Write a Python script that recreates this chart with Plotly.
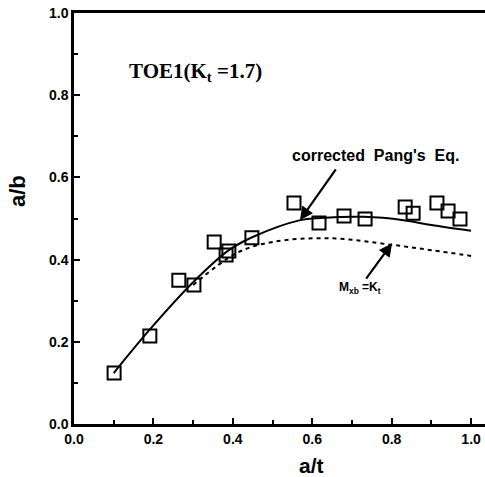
import plotly.graph_objects as go

# measured data points (a/t, a/b)
pts_x = [0.101, 0.191, 0.264, 0.302, 0.353, 0.390, 0.383, 0.448, 0.554, 0.617,
         0.680, 0.733, 0.834, 0.854, 0.914, 0.942, 0.972]
pts_y = [0.124, 0.214, 0.350, 0.338, 0.443, 0.421, 0.411, 0.453, 0.538, 0.489,
         0.506, 0.499, 0.528, 0.513, 0.538, 0.518, 0.499]

# corrected Pang's equation (solid)
pang_x = [0.10, 0.19, 0.30, 0.39, 0.45, 0.57, 0.62, 0.73, 0.83, 0.90, 1.00]
pang_y = [0.124, 0.229, 0.345, 0.423, 0.455, 0.496, 0.501, 0.504, 0.496, 0.484, 0.470]

# Mxb = Kt (dashed)
mxb_x = [0.30, 0.41, 0.50, 0.645, 0.80, 0.90, 1.00]
mxb_y = [0.338, 0.416, 0.443, 0.452, 0.436, 0.423, 0.409]

tick_vals = [0.0, 0.2, 0.4, 0.6, 0.8, 1.0]
tick_text = ["0.0", "0.2", "0.4", "0.6", "0.8", "1.0"]

fig = go.Figure()
fig.add_trace(go.Scatter(x=pang_x, y=pang_y, mode="lines",
                         line=dict(color="black", width=2, shape="spline"),
                         showlegend=False))
fig.add_trace(go.Scatter(x=mxb_x, y=mxb_y, mode="lines",
                         line=dict(color="black", width=2, dash="4px,4px", shape="spline"),
                         showlegend=False))
fig.add_trace(go.Scatter(x=pts_x, y=pts_y, mode="markers",
                         marker=dict(symbol="square-open", size=13,
                                     color="black", line=dict(width=2, color="black")),
                         showlegend=False))

tickfont = dict(family="Liberation Sans", size=14, color="black")
bold_ticks = ["<b>%s</b>" % t for t in tick_text]
minor_vals = [0.1, 0.3, 0.5, 0.7, 0.9]
fig.update_xaxes(range=[0, 1.035], tickvals=tick_vals, ticktext=bold_ticks,
                 showline=True, linecolor="black", linewidth=2.5, mirror=True,
                 ticks="inside", ticklen=6, tickwidth=1.5, tickcolor="black",
                 minor=dict(tickvals=minor_vals, ticks="inside",
                            ticklen=4, tickcolor="black"),
                 showgrid=False, zeroline=False, tickfont=tickfont)
fig.update_yaxes(range=[0, 1.0], tickvals=tick_vals, ticktext=bold_ticks,
                 showline=True, linecolor="black", linewidth=2.5,
                 ticks="inside", ticklen=6, tickwidth=1.5, tickcolor="black",
                 minor=dict(tickvals=minor_vals, ticks="inside",
                            ticklen=4, tickcolor="black"),
                 showgrid=False, zeroline=False, tickfont=tickfont)

fig.add_annotation(text="<b>TOE1(K<sub>t</sub> =1.7)</b>", x=0.134, y=0.857,
                   xanchor="left", yanchor="middle", showarrow=False,
                   font=dict(family="Liberation Serif", size=21, color="black"))
fig.add_annotation(text="<b>corrected  Pang's  Eq.</b>", x=0.758, y=0.654,
                   xanchor="center", yanchor="middle", showarrow=False,
                   font=dict(family="Liberation Sans", size=16, color="black"))
fig.add_annotation(x=0.569, y=0.496, ax=0.662, ay=0.623, axref="x", ayref="y",
                   text="", showarrow=True, arrowhead=2, arrowsize=1.2,
                   arrowwidth=2.2, arrowcolor="black")
fig.add_annotation(text="<b>M<sub>xb</sub> =K<sub>t</sub></b>", x=0.72, y=0.33,
                   xanchor="center", yanchor="middle", showarrow=False,
                   font=dict(family="Liberation Sans", size=12, color="black"))
fig.add_annotation(x=0.801, y=0.440, ax=0.733, ay=0.350, axref="x", ayref="y",
                   text="", showarrow=True, arrowhead=2, arrowsize=1.2,
                   arrowwidth=2.2, arrowcolor="black")
fig.add_annotation(text="<b>a/b</b>", x=-0.136, y=0.567, xref="paper", yref="paper",
                   textangle=-90, showarrow=False, xanchor="center", yanchor="middle",
                   font=dict(family="Liberation Sans", size=22, color="black"))
fig.add_annotation(text="<b>a/t</b>", x=0.577, y=-0.1, xref="paper", yref="paper",
                   showarrow=False, xanchor="center", yanchor="middle",
                   font=dict(family="Liberation Sans", size=21, color="black"))

fig.update_layout(width=485, height=477, margin=dict(l=74, r=0, t=13, b=53),
                  plot_bgcolor="white", paper_bgcolor="white")
fig.write_html("out.html")
